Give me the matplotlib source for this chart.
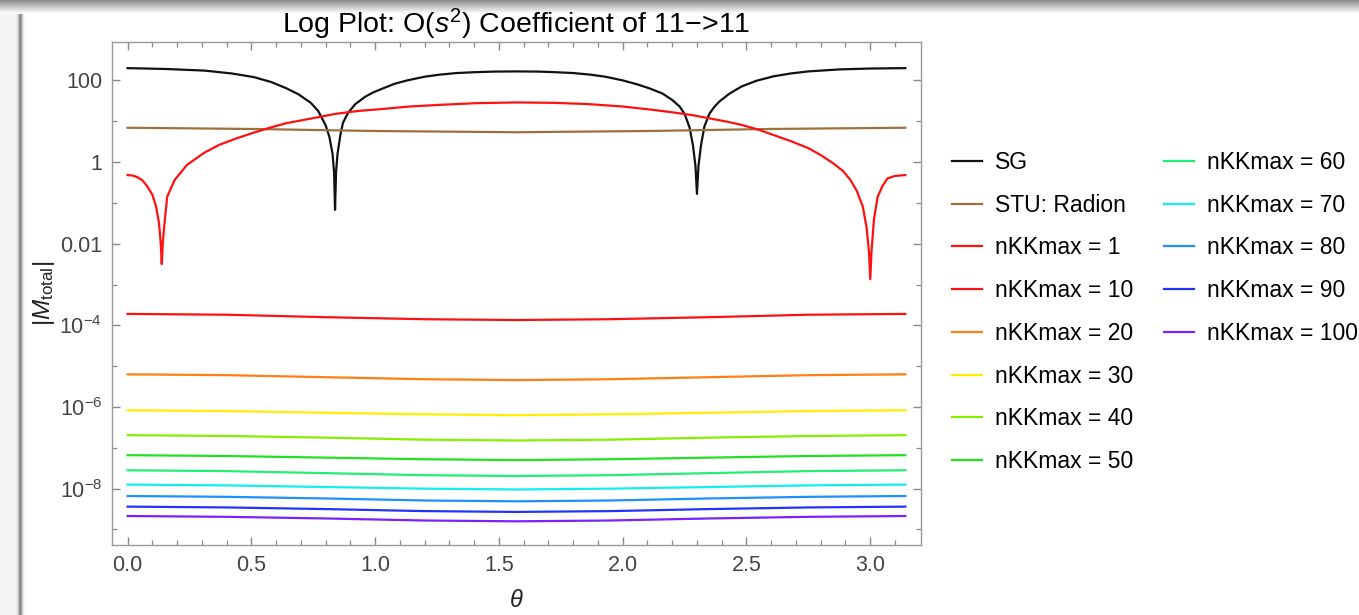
import numpy as np
import matplotlib.pyplot as plt
from matplotlib.lines import Line2D
from matplotlib.ticker import FixedLocator, NullFormatter

plt.rcParams['font.family'] = ['Liberation Sans', 'DejaVu Sans']
plt.rcParams['mathtext.fontset'] = 'custom'
plt.rcParams['mathtext.rm'] = 'Liberation Sans'
plt.rcParams['mathtext.it'] = 'Liberation Sans:italic'

# values, stored as log10(|M_total|)
sg_theta = [0, 0.15, 0.31, 0.42, 0.51, 0.58, 0.64, 0.69, 0.74, 0.77, 0.80, 0.815,
            0.828, 0.834, 0.838, 0.842, 0.848, 0.86, 0.87, 0.89, 0.92, 0.96, 0.99,
            1.03, 1.08, 1.13, 1.20, 1.26, 1.33, 1.40, 1.48, 1.57, 1.66, 1.73, 1.80,
            1.87, 1.93, 2.00, 2.06, 2.11, 2.16, 2.20, 2.23, 2.25, 2.27, 2.284, 2.294,
            2.30, 2.306, 2.316, 2.33, 2.35, 2.37, 2.39, 2.43, 2.48, 2.54, 2.61, 2.68,
            2.75, 2.88, 3.0, 3.1416]
sg_log = [2.30, 2.28, 2.24, 2.17, 2.08, 1.96, 1.81, 1.66, 1.45, 1.25, 0.90, 0.62,
          0.20, -0.25, -1.17, -0.25, 0.20, 0.68, 0.96, 1.20, 1.42, 1.60, 1.70,
          1.80, 1.92, 2.00, 2.09, 2.14, 2.18, 2.20, 2.215, 2.22, 2.215, 2.20, 2.18,
          2.14, 2.09, 2.00, 1.90, 1.80, 1.68, 1.52, 1.36, 1.18, 0.85, 0.40, -0.10,
          -0.78, -0.10, 0.40, 0.87, 1.18, 1.35, 1.48, 1.67, 1.85, 1.99, 2.10, 2.17,
          2.22, 2.27, 2.29, 2.30]

stu_theta = [0, 0.5, 1.0, 1.5708, 2.1, 2.6, 3.1416]
stu_log = [0.84, 0.81, 0.76, 0.73, 0.76, 0.81, 0.84]

kk1_theta = [0, 0.02, 0.04, 0.06, 0.08, 0.10, 0.115, 0.127, 0.134, 0.138, 0.142, 0.149,
             0.16, 0.19, 0.24, 0.31, 0.37, 0.44, 0.51, 0.58, 0.64, 0.71, 0.78, 0.84,
             0.93, 1.03, 1.14, 1.26, 1.40, 1.57, 1.72, 1.86, 2.00, 2.12, 2.21, 2.28,
             2.35, 2.42, 2.48, 2.55, 2.61, 2.68, 2.75, 2.80, 2.85, 2.89, 2.92, 2.945,
             2.97, 2.985, 2.995, 3.00, 3.005, 3.015, 3.03, 3.05, 3.07, 3.10, 3.1416]
kk1_log = [-0.32, -0.33, -0.37, -0.45, -0.60, -0.80, -1.09, -1.50, -2.00, -2.50, -2.00, -1.50,
           -0.85, -0.44, -0.07, 0.23, 0.42, 0.58, 0.72, 0.85, 0.95, 1.03, 1.11, 1.18,
           1.25, 1.30, 1.36, 1.40, 1.44, 1.46, 1.45, 1.42, 1.36, 1.28, 1.21, 1.15,
           1.07, 0.99, 0.91, 0.79, 0.66, 0.51, 0.34, 0.17, -0.03, -0.22, -0.44, -0.70,
           -1.09, -1.60, -2.20, -2.87, -2.20, -1.40, -0.85, -0.58, -0.40, -0.34, -0.32]

flat_theta = [0, 0.4, 0.8, 1.2, 1.5708, 1.95, 2.35, 2.75, 3.1416]
kk10_log = [-3.72, -3.74, -3.80, -3.85, -3.87, -3.85, -3.80, -3.74, -3.72]
kk20_log = [-5.20, -5.22, -5.27, -5.32, -5.34, -5.32, -5.27, -5.22, -5.20]
kk30_log = [-6.08, -6.10, -6.14, -6.18, -6.20, -6.18, -6.14, -6.10, -6.08]
kk40_log = [-6.69, -6.71, -6.75, -6.80, -6.82, -6.80, -6.75, -6.71, -6.69]
kk50_log = [-7.18, -7.20, -7.24, -7.28, -7.30, -7.28, -7.24, -7.20, -7.18]
kk60_log = [-7.55, -7.57, -7.62, -7.67, -7.69, -7.67, -7.62, -7.57, -7.55]
kk70_log = [-7.90, -7.92, -7.96, -8.00, -8.02, -8.00, -7.96, -7.92, -7.90]
kk80_log = [-8.18, -8.20, -8.24, -8.29, -8.31, -8.29, -8.24, -8.20, -8.18]
kk90_log = [-8.44, -8.46, -8.50, -8.55, -8.57, -8.55, -8.50, -8.46, -8.44]
kk100_log = [-8.67, -8.69, -8.73, -8.78, -8.80, -8.78, -8.73, -8.69, -8.67]

labels = ['SG', 'STU: Radion', 'nKKmax = 1', 'nKKmax = 10', 'nKKmax = 20',
          'nKKmax = 30', 'nKKmax = 40', 'nKKmax = 50', 'nKKmax = 60', 'nKKmax = 70',
          'nKKmax = 80', 'nKKmax = 90', 'nKKmax = 100']
colors = ['#111111', '#a0703c', '#ff1010', '#ff1010', '#ff8010', '#ffee00',
          '#88ee00', '#22e022', '#22ee77', '#11eeee', '#1e90ff', '#2233ff', '#7722ff']

curves = [(sg_theta, sg_log), (stu_theta, stu_log), (kk1_theta, kk1_log),
          (flat_theta, kk10_log), (flat_theta, kk20_log), (flat_theta, kk30_log),
          (flat_theta, kk40_log), (flat_theta, kk50_log), (flat_theta, kk60_log),
          (flat_theta, kk70_log), (flat_theta, kk80_log), (flat_theta, kk90_log),
          (flat_theta, kk100_log)]

W, H = 1359, 615
fig = plt.figure(figsize=(W / 100, H / 100), dpi=100)

# window shadow along top and left edges
top = fig.add_axes([0, 1 - 14 / H, 1, 14 / H])
grad = np.linspace(0.35, 1.0, 50).reshape(-1, 1) ** 0.6
top.imshow(grad, cmap='gray', vmin=0, vmax=1, aspect='auto', extent=[0, 1, 0, 1])
top.axis('off')
left = fig.add_axes([0, 0, 26 / W, 1 - 14 / H])
row = np.array([0.95] * 16 + [0.9, 0.8, 0.62, 0.5, 0.62, 0.8, 0.92, 0.97, 1, 1]).reshape(1, -1)
left.imshow(row, cmap='gray', vmin=0, vmax=1, aspect='auto', extent=[0, 1, 0, 1])
left.axis('off')

ax = fig.add_axes([112 / W, 1 - 545 / H, (921 - 112) / W, (545 - 42) / H])

for (th, lg), c, lab in zip(curves, colors, labels):
    ax.plot(th, 10 ** np.array(lg), color=c, lw=1.6, label=lab)

ax.set_yscale('log')
ax.set_xlim(-0.063, 3.205)
ax.set_ylim(10 ** -9.38, 10 ** 2.94)

ax.xaxis.set_major_locator(FixedLocator([0, 0.5, 1, 1.5, 2, 2.5, 3]))
ax.xaxis.set_minor_locator(FixedLocator(np.arange(0, 3.15, 0.1)))
ax.set_xticklabels(['0.0', '0.5', '1.0', '1.5', '2.0', '2.5', '3.0'])
ax.yaxis.set_major_locator(FixedLocator([1e2, 1, 1e-2, 1e-4, 1e-6, 1e-8]))
ax.yaxis.set_minor_locator(FixedLocator([1e1, 1e-1, 1e-3, 1e-5, 1e-7, 1e-9]))
ax.yaxis.set_minor_formatter(NullFormatter())
ax.set_yticklabels(['100', '1', '0.01', '$10^{-4}$', '$10^{-6}$', '$10^{-8}$'])

for s in ax.spines.values():
    s.set_color('#999999')
    s.set_linewidth(1.0)
ax.tick_params(which='both', direction='in', top=True, right=True, color='#888888',
               labelcolor='#444444', labelsize=15.5)
ax.tick_params(which='major', length=6, width=1)
ax.tick_params(which='minor', length=3.5, width=0.9)
ax.tick_params(axis='x', pad=7)
ax.tick_params(axis='y', pad=7)

ax.set_title('Log Plot: O($s^2$) Coefficient of 11\u2212>11', fontsize=20.5, pad=5)
ax.set_xlabel(r'$\theta$', fontsize=17, color='#222222', labelpad=10)
ax.set_ylabel(r'$|M_{\mathrm{total}}|$', fontsize=17.5, color='#222222', labelpad=2)

handles = ax.get_lines() + [Line2D([], [], color='none')] * 3
fig.legend(handles, labels + [''] * 3, loc='upper left', ncol=2, frameon=False,
           bbox_to_anchor=(952 / W, 1 - 151 / H), fontsize=16.5, handlelength=1.3,
           handletextpad=0.57, columnspacing=1.36, labelspacing=0.86, borderpad=0,
           borderaxespad=0)

fig.savefig('out.png', dpi=100)
